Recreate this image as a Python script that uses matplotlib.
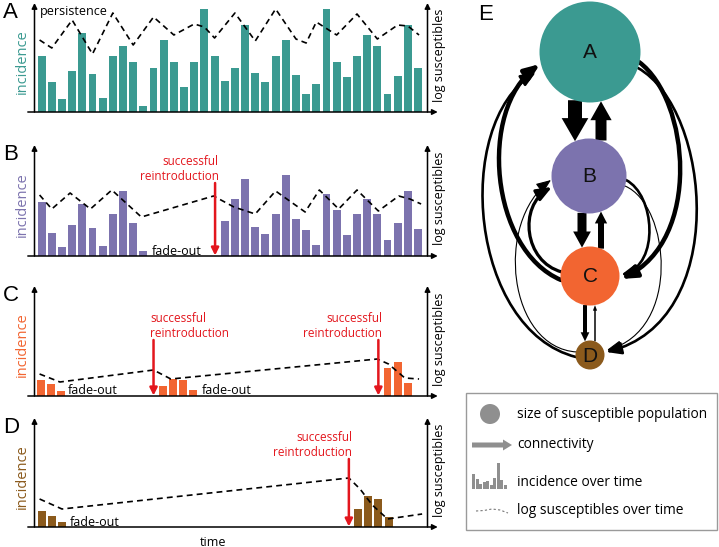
import matplotlib.pyplot as plt
import numpy as np
from matplotlib.patches import Circle, FancyArrow, FancyArrowPatch, Rectangle
from matplotlib.path import Path

plt.rcParams['font.family'] = ['Open Sans', 'DejaVu Sans']

W, H = 719, 547

teal = '#3b9a91'
purple = '#7c73ae'
orange = '#f26531'
brown = '#8b5a1c'
red = '#e3161d'
grey = '#8f8f8f'

# ---- panel A: persistence ----
a_t = np.arange(38)
a_inc = [56, 30, 13, 41, 79, 38, 14, 56, 66, 50, 6, 44, 72, 50, 25, 50, 103, 56, 31, 44,
         87, 39, 30, 56, 72, 37, 18, 28, 103, 50, 35, 56, 77, 66, 18, 36, 87, 44]
a_sus_t = [-0.2, 1, 3, 5, 7, 9, 11, 13, 15, 16, 17, 19, 21, 23, 25, 26, 27, 29, 31, 33, 35, 36, 37.1]
a_sus = [72, 64, 92, 58, 99, 67, 95, 77, 88, 85, 74, 99, 71, 103, 73, 69, 90, 77, 98, 73, 87, 86, 77]

# ---- panel B: one fade-out, one reintroduction ----
b_t = list(range(0, 11)) + list(range(18, 38))
b_inc = [54, 23, 9, 31, 52, 28, 10, 42, 65, 33, 5,
         35, 57, 77, 29, 22, 42, 81, 37, 26, 11, 62, 46, 21, 42, 57, 42, 16, 33, 65, 27]
b_sus_t = [-0.2, 1, 2.8, 4.8, 6.9, 9.8, 16.9, 18.9, 21, 23, 25.9, 27.3, 29.2, 31, 33.1, 35.1, 36.2, 37.3]
b_sus = [61, 47, 63, 47, 66, 39, 60, 49, 42, 65, 44, 66, 47, 66, 45, 60, 57, 52]
b_reintro = [17.05]
b_fade = [10.8]

# ---- panel C ----
c_t = [-0.1, 0.9, 1.9, 11.9, 12.9, 13.9, 14.9, 34, 35, 36]
c_inc = [16, 12, 5, 10, 17, 16, 6, 28, 34, 13]
c_sus_t = [-0.2, 1.8, 11.0, 12.7, 33.0, 34.1, 35.7, 37.1]
c_sus = [22, 14, 26, 17, 37, 32, 18, 17]
c_reintro = [11.0, 33.1]
c_fade = [2.6, 15.7]

# ---- panel D ----
d_t = [0, 1, 2, 31.1, 32.1, 33.1, 34.1]
d_inc = [16, 11, 5, 18, 31, 28, 10]
d_sus_t = [-0.2, 2.0, 30.2, 31.3, 32.5, 34.0, 37.4]
d_sus = [28, 18, 49, 38, 22, 8, 13]
d_reintro = [30.2]
d_fade = [2.8]

# ---- panel E: network ----
node_names = ['A', 'B', 'C', 'D']
node_x = [590, 589, 590, 590]
node_y = [52, 176, 276, 355]
node_r = [50.5, 37.5, 29.5, 14.5]
node_col = [teal, purple, orange, brown]

# (from, to, x offset from centre, shaft width)
straight_edges = [('A', 'B', -15, 14), ('B', 'A', 11, 11), ('B', 'C', -8, 9),
                  ('C', 'B', 11, 6), ('C', 'D', -5, 4), ('D', 'C', 5, 1.5)]
# (from, to, bezier control points, linewidth)
curved_edges = [
    ('C', 'A', [(561, 280), (490, 250), (478, 110), (540, 64)], 3.2),
    ('D', 'A', [(576, 357), (470, 330), (452, 125), (536, 72)], 1.9),
    ('D', 'B', [(577, 352), (508, 348), (494, 222), (551, 180)], 0.8),
    ('C', 'B', [(562, 272), (524, 262), (518, 206), (552, 187)], 2.3),
    ('A', 'C', [(639, 62), (690, 100), (702, 240), (621, 279)], 3.2),
    ('A', 'D', [(638, 68), (712, 110), (730, 322), (606, 352)], 1.9),
    ('B', 'C', [(626, 180), (655, 195), (660, 264), (621, 275)], 1.9),
    ('B', 'D', [(625, 186), (670, 205), (682, 330), (607, 350)], 0.8),
]

legend_bars = [15, 10, 5, 7, 8, 4, 11, 26, 9, 4]

fig = plt.figure(figsize=(W / 100, H / 100), dpi=100)

L, R = 34.5, 427.5


def panel(top, bottom, color, letter, t, inc, sus_t, sus, reintro=(), fade=(),
          text_align='right', text_y=80):
    ax = fig.add_axes([L / W, 1 - bottom / H, (R - L) / W, (bottom - top) / H])
    ax.bar(t, inc, width=0.78, color=color, zorder=2)
    ax.plot(sus_t, sus, ls=(0, (3.5, 2.5)), color='black', lw=1.2, zorder=3)
    ax.set_xlim(-0.7, 37.93)
    ax.set_ylim(0, bottom - top)
    ax.axis('off')
    ap = dict(arrowstyle='-|>', color='black', lw=1.1, mutation_scale=8, shrinkA=0, shrinkB=0)
    ax.annotate('', xy=(0, 1), xytext=(0, 0), xycoords='axes fraction', arrowprops=ap)
    ax.annotate('', xy=(1, 1), xytext=(1, 0), xycoords='axes fraction', arrowprops=ap)
    ax.annotate('', xy=(1.026, 0), xytext=(-0.017, 0), xycoords='axes fraction', arrowprops=ap)
    for i, x in enumerate(reintro):
        ax.annotate('', xy=(x, 0.5), xytext=(x, text_y - 14),
                    arrowprops=dict(arrowstyle='-|>', color=red, lw=1.8, mutation_scale=11,
                                    shrinkA=0, shrinkB=0))
        ha = text_align[i] if isinstance(text_align, list) else text_align
        tx = x + (0.35 if ha == 'right' else -0.35)
        ax.text(tx, text_y, 'successful\nreintroduction', color=red, ha=ha, va='center',
                multialignment=ha, fontsize=8.5, linespacing=1.15)
    for x in fade:
        ax.text(x, 1.5, 'fade-out', fontsize=9, va='baseline', ha='left')
    mid = 1 - (top + bottom) / 2 / H
    fig.text(22 / W, mid - 4 / H, 'incidence', rotation=90, color=color, fontsize=10.5,
             ha='center', va='center')
    fig.text(440 / W, mid + 2 / H, 'log susceptibles', rotation=90, fontsize=9,
             ha='center', va='center')
    fig.text(3 / W, 1 - (top - 1) / H, letter, fontsize=16, family='Liberation Sans',
             va='top', ha='left')
    return ax


ax_a = panel(3, 112, teal, 'A', a_t, a_inc, a_sus_t, a_sus)
ax_a.text(-0.2, 97, 'persistence', fontsize=9, va='baseline', ha='left')
panel(145, 256, purple, 'B', b_t, b_inc, b_sus_t, b_sus, b_reintro, b_fade, 'right', 87)
panel(286, 396, orange, 'C', c_t, c_inc, c_sus_t, c_sus, c_reintro, c_fade, ['left', 'right'], 70)
ax_d = panel(418, 527, brown, 'D', d_t, d_inc, d_sus_t, d_sus, d_reintro, d_fade, 'right', 82)
fig.text(213 / W, 1 - 542 / H, 'time', fontsize=9, ha='center', va='center')

# ---- network ----
ax_e = fig.add_axes([455 / W, 0, (W - 455) / W, 1])
ax_e.set_xlim(455, W)
ax_e.set_ylim(H, 0)
ax_e.axis('off')
fig.text(478 / W, 1 - 4 / H, 'E', fontsize=16, family='Liberation Sans', va='top', ha='left')

idx = {n: i for i, n in enumerate(node_names)}


def edge_y(n, x, side):
    i = idx[n]
    dx = x - node_x[i]
    return node_y[i] + side * np.sqrt(node_r[i] ** 2 - dx ** 2)


for src, dst, off, w in straight_edges:
    x = 590 + off
    down = node_y[idx[dst]] > node_y[idx[src]]
    y0 = edge_y(src, x, 1 if down else -1)
    y1 = edge_y(dst, x, -1 if down else 1)
    ax_e.add_patch(FancyArrow(x, y0, 0, y1 - y0, width=w, head_width=1.8 * w + 1.5,
                              head_length=1.4 * w + 3.5, length_includes_head=True,
                              color='black', lw=0, zorder=2))

for src, dst, pts, lw in curved_edges:
    path = Path(pts, [Path.MOVETO, Path.CURVE4, Path.CURVE4, Path.CURVE4])
    ax_e.add_patch(FancyArrowPatch(path=path, arrowstyle='-|>,head_length=0.9,head_width=0.36',
                                   mutation_scale=10, lw=lw, color='black', zorder=2))

for n, x, y, r, c in zip(node_names, node_x, node_y, node_r, node_col):
    ax_e.add_patch(Circle((x, y), r, color=c, zorder=3, lw=0))
    ax_e.text(x, y + 1, n, fontsize=15, family='Liberation Sans', ha='center', va='center',
              color='#111111', zorder=4)

# ---- legend ----
ax_e.add_patch(Rectangle((466, 393), 251, 137, fill=False, ec='#9a9a9a', lw=1.0))
ax_e.add_patch(Circle((490, 414), 10, color=grey, lw=0))
ax_e.add_patch(FancyArrow(472, 445, 40, 0, width=5, head_width=11, head_length=9,
                          length_includes_head=True, color=grey, lw=0))
for i, h in enumerate(legend_bars):
    ax_e.add_patch(Rectangle((472.5 + 3.5 * i, 489 - h), 2.7, h, color=grey, lw=0))
ax_e.plot([476, 484, 492, 500, 508], [511, 510.5, 509, 510, 513], color='#777777', lw=0.8,
          ls=(0, (2, 2)))
leg_text = ['size of susceptible population', 'connectivity', 'incidence over time',
            'log susceptibles over time']
for t, y in zip(leg_text, [414, 445, 483, 511]):
    ax_e.text(517, y, t, fontsize=9.9, va='center', ha='left')

fig.savefig('out.png', dpi=100)
